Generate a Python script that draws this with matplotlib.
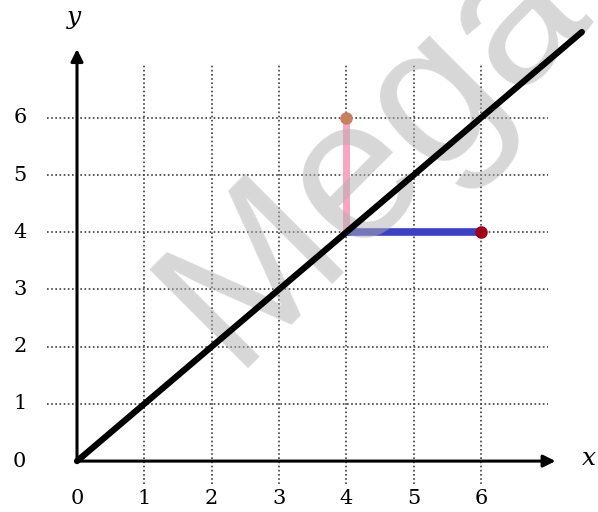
import matplotlib.pyplot as plt
import numpy as np

# ticks / grid positions
xticks = [0, 1, 2, 3, 4, 5, 6]
yticks = [0, 1, 2, 3, 4, 5, 6]
grid_x = [1, 2, 3, 4, 5, 6]
grid_y = [1, 2, 3, 4, 5, 6]
# the line y = x
line_x = [0, 7.5]
line_y = [0, 7.5]
# projections from the point (4, 4)
pink_x = [4, 4]
pink_y = [4, 6]
blue_x = [4, 6]
blue_y = [4, 4]

fig = plt.figure(figsize=(5.98, 5.12), dpi=100)
ax = fig.add_axes([0, 0, 1, 1])
ax.set_xlim(-1.144, 7.74)
ax.set_ylim(-0.89, 8.06)
ax.axis('off')

# dotted grid
for gy in grid_y:
    ax.plot([-0.45, 7.0], [gy, gy], color='#404040', lw=1.2, ls=(0, (1, 1.5)), zorder=1)
for gx in grid_x:
    ax.plot([gx, gx], [-0.4, 6.92], color='#404040', lw=1.2, ls=(0, (1, 1.5)), zorder=1)

# axes with arrows
ax.annotate('', xy=(7.15, 0), xytext=(0, 0),
            arrowprops=dict(arrowstyle='-|>', color='black', lw=2.2, mutation_scale=18), zorder=3)
ax.annotate('', xy=(0, 7.25), xytext=(0, 0),
            arrowprops=dict(arrowstyle='-|>', color='black', lw=2.2, mutation_scale=18), zorder=3)

ax.text(7.6, 0.05, 'x', fontsize=18, style='italic', family='DejaVu Serif', ha='center', va='center')
ax.text(-0.05, 7.75, 'y', fontsize=18, style='italic', family='DejaVu Serif', ha='center', va='center')

for t in xticks:
    ax.text(t, -0.65, str(t), fontsize=15, family='DejaVu Serif', ha='center', va='center')
for t in yticks:
    ax.text(-0.85, t, str(t), fontsize=15, family='DejaVu Serif', ha='center', va='center')

ax.plot(pink_x, pink_y, color='#f8a6c2', lw=5, solid_capstyle='butt', zorder=4)
ax.plot(blue_x, blue_y, color='#3c3fc8', lw=5.5, solid_capstyle='butt', zorder=4)

# watermark
ax.text(2.3, 1.62, 'Mega', fontsize=146, color='#b0b0b0', alpha=0.5,
        rotation=45, rotation_mode='anchor', ha='left', va='baseline',
        family='Liberation Sans', zorder=4.5)

ax.plot(line_x, line_y, color='black', lw=4.5, solid_capstyle='round', zorder=5)
ax.plot([pink_x[1]], [pink_y[1]], 'o', color='#c88060', ms=8, zorder=6)
ax.plot([blue_x[1]], [blue_y[1]], 'o', color='#a00018', ms=8, zorder=6)

fig.savefig('out.png', dpi=100)
